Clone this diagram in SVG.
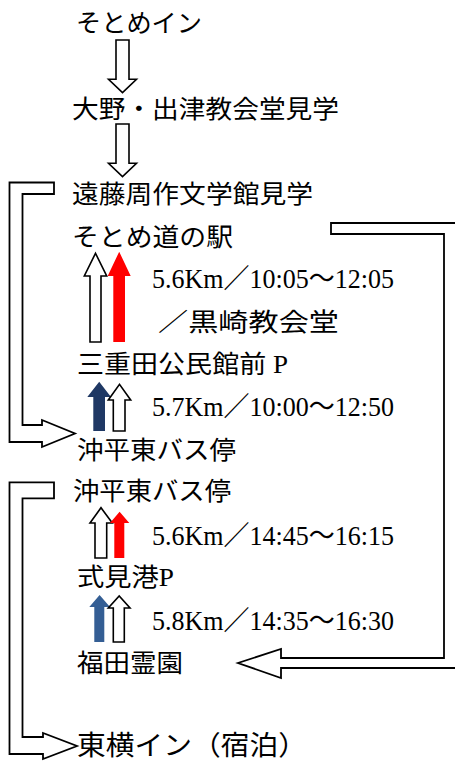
<svg xmlns="http://www.w3.org/2000/svg" width="455" height="761" viewBox="0 0 455 761">
<style>
.t{font-family:"Liberation Serif","Noto Sans CJK JP",serif;font-size:25px;fill:#000}
.d{font-family:"Liberation Serif","Noto Sans CJK JP",serif;font-size:27px;fill:#000}
.h{fill:#fff;stroke:#000;stroke-width:1.6;stroke-linejoin:miter}
.b{fill:#fff;stroke:#000;stroke-width:1.8;stroke-linejoin:miter}
</style>
<rect width="455" height="761" fill="#fff"/>
<g id="connectors">
<path class="h" d="M116,40 H129 V79.3 H136.5 L122.5,92.7 L108.5,79.3 H116 Z"/>
<path class="h" d="M116,124 H129 V163.3 H136.5 L122.5,176.7 L108.5,163.3 H116 Z"/>
<path class="b" d="M9.5,182.5 H54 V194 H22.5 V425 H42 V420 L75,433.5 L42,447 V442 H9.5 Z"/>
<path class="b" d="M9.5,482.3 H54 V498.3 H22.5 V737 H43 V733 L77,746 L43,759 V754 H9.5 Z"/>
<path class="b" d="M331,223 H462 V668 H281 V678 L238,663 L281,649 V658 H444 V234 H331 Z"/>
<path class="h" d="M90,342 V276 H84.3 L95.5,253.3 L106.7,276 H101 V342 Z"/>
<path fill="#ff0000" d="M113.3,342 V276 H107.7 L119.2,251.7 L130.7,276 H125 V342 Z"/>
<path fill="#1f3864" d="M93.3,431 V397 H87.3 L99.2,381.7 L111,397 H105 V431 Z"/>
<path class="h" d="M113.3,431 V400 H108.3 L119.5,384.3 L130.7,400 H125 V431 Z"/>
<path class="h" d="M95,558 V523 H90 L101,507.7 L112.3,523 H106.7 V558 Z"/>
<path fill="#ff0000" d="M114.3,558 V523 H110 L119.6,511.7 L129.3,523 H124.3 V558 Z"/>
<path fill="#345e94" d="M94.3,642 V607 H89.3 L99.6,595 L110,607 H104.3 V642 Z"/>
<path class="h" d="M113.3,642 V608 H108.3 L119.2,596 L130,608 H124.3 V642 Z"/>
</g>
<g id="n1"><text class="t" x="76" y="32" textLength="126" lengthAdjust="spacingAndGlyphs">そとめイン</text></g>
<g id="n2"><text class="t" x="72" y="118" textLength="267" lengthAdjust="spacingAndGlyphs">大野・出津教会堂見学</text></g>
<g id="n3"><text class="t" x="72" y="203" textLength="241" lengthAdjust="spacingAndGlyphs">遠藤周作文学館見学</text></g>
<g id="n4"><text class="t" x="72" y="246" textLength="161" lengthAdjust="spacingAndGlyphs">そとめ道の駅</text></g>
<g id="l1"><text class="d" x="152" y="288" textLength="242" lengthAdjust="spacingAndGlyphs">5.6Km／10:05～12:05</text></g>
<g id="l1b"><text class="t" x="158" y="331" textLength="181" lengthAdjust="spacingAndGlyphs">／黒崎教会堂</text></g>
<g id="n5"><text class="t" x="77" y="373" textLength="211" lengthAdjust="spacingAndGlyphs">三重田公民館前 P</text></g>
<g id="l2"><text class="d" x="152" y="416" textLength="242" lengthAdjust="spacingAndGlyphs">5.7Km／10:00～12:50</text></g>
<g id="n6"><text class="t" x="77" y="459" textLength="159" lengthAdjust="spacingAndGlyphs">沖平東バス停</text></g>
<g id="n7"><text class="t" x="73" y="500" textLength="158" lengthAdjust="spacingAndGlyphs">沖平東バス停</text></g>
<g id="l3"><text class="d" x="152" y="545" textLength="242" lengthAdjust="spacingAndGlyphs">5.6Km／14:45～16:15</text></g>
<g id="n8"><text class="t" x="77" y="586" textLength="97" lengthAdjust="spacingAndGlyphs">式見港P</text></g>
<g id="l4"><text class="d" x="152" y="630" textLength="242" lengthAdjust="spacingAndGlyphs">5.8Km／14:35～16:30</text></g>
<g id="n9"><text class="t" x="77" y="672" textLength="106" lengthAdjust="spacingAndGlyphs">福田霊園</text></g>
<g id="n10"><text class="t" x="77" y="755" style="font-size:27px" textLength="230" lengthAdjust="spacingAndGlyphs">東横イン（宿泊）</text></g>
</svg>
